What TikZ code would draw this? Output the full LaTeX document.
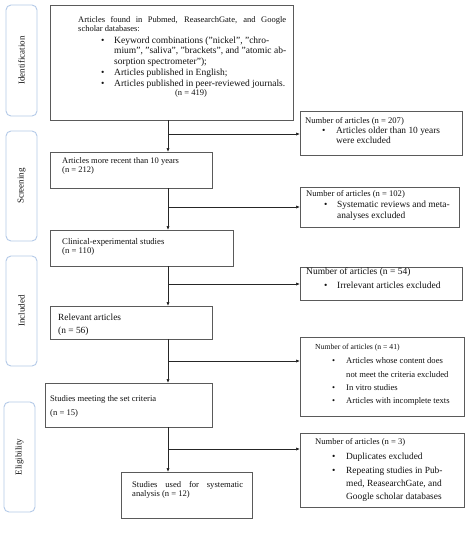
\documentclass[tikz,border=0pt]{standalone}
\usepackage{fontspec}
\setmainfont{Liberation Serif}
\usetikzlibrary{arrows.meta}
\definecolor{sidec}{HTML}{B4CAE8}
\definecolor{boxc}{HTML}{5A5A5A}
\definecolor{txtc}{HTML}{111111}
\newcommand{\mylines}[1]{\begin{tabular}[t]{@{}l@{}}#1\end{tabular}}
\newcommand{\mybul}[2]{\begin{tabular}[t]{@{}p{#1}@{}l@{}}#2\end{tabular}}
\newcommand{\fs}[2]{\fontsize{#1}{#2}\selectfont}
\begin{document}
\begin{tikzpicture}[x=1pt,y=-1pt,
  sidebox/.style={draw=sidec,line width=0.9pt,rounded corners=5pt,fill=white},
  mbox/.style={draw=boxc,line width=0.9pt},
  txt/.style={inner sep=0pt,anchor=base west,text=txtc},
  sidetxt/.style={inner sep=0pt,rotate=90,text=txtc,font=\fs{9}{10}},
  arr/.style={draw=black!85,line width=0.7pt,-{Latex[length=4pt,width=3.2pt]}},
  ln/.style={draw=black!85,line width=0.7pt}]
\useasboundingbox[fill=white] (0,0) rectangle (469,550);
% side labels
\draw[sidebox] (6,5) rectangle (37,116);
\node[sidetxt] (sid) at (21.5,60.5) {Identification};
\draw[sidebox] (6,131) rectangle (37,241);
\node[sidetxt] (sscr) at (21.5,186) {Screening};
\draw[sidebox] (6,256) rectangle (37,366);
\node[sidetxt] (sinc) at (21.5,311) {Included};
\draw[sidebox] (4,402) rectangle (35,512);
\node[sidetxt] (selig) at (19.5,457) {Eligibility};
% main boxes
\draw[mbox] (50,5) rectangle (293,120);
\coordinate (b1s) at (168,120);
\draw[mbox] (50,152) rectangle (212,188);
\coordinate (b2n) at (168,152); \coordinate (b2s) at (168,188);
\draw[mbox] (50,230) rectangle (233,266);
\coordinate (b3n) at (168,230); \coordinate (b3s) at (168,266);
\draw[mbox] (50,306) rectangle (212,339);
\coordinate (b4n) at (168,306); \coordinate (b4s) at (168,339);
\draw[mbox] (45,383) rectangle (212,427);
\coordinate (b5n) at (168,383); \coordinate (b5s) at (168,427);
\draw[mbox] (121,472) rectangle (252,518);
\coordinate (b6n) at (168,472);
% right boxes
\draw[mbox] (300,111) rectangle (462,155);
\coordinate (r1w) at (300,134);
\draw[mbox] (300,187) rectangle (459,227);
\coordinate (r2w) at (300,207);
\draw[mbox] (300,267) rectangle (462,300);
\coordinate (r3w) at (300,284);
\draw[mbox] (300,337) rectangle (464,416);
\coordinate (r4w) at (300,361);
\draw[mbox] (300,433) rectangle (464,507);
\coordinate (r5w) at (300,449);
% connectors
\draw[arr] (b1s) -- (b2n);
\draw[arr] (b2s) -- (b3n);
\draw[arr] (b3s) -- (b4n);
\draw[arr] (b4s) -- (b5n);
\draw[arr] (b5s) -- (b6n);
\coordinate (j1) at (168,134);
\coordinate (j2) at (168,207);
\coordinate (j3) at (168,284);
\coordinate (j4) at (168,361);
\coordinate (j5) at (168,449);
\draw[arr] (j1) -- (r1w);
\draw[arr] (j2) -- (r2w);
\draw[arr] (j3) -- (r3w);
\draw[arr] (j4) -- (r4w);
\draw[arr] (j5) -- (r5w);
% texts main
\node[txt] (t1a) at (78,22.5) {\fs{8.5}{9.3}\begin{tabular}[t]{@{}p{208pt}@{}}Articles found in Pubmed, ReasearchGate, and Google\linebreak scholar databases:\end{tabular}};
\node[txt] (t1b) at (101,43.2) {\fs{9.5}{10.7}\mybul{13pt}{\textbullet & Keyword combinations ("nickel", "chro-\\ & mium", "saliva", "brackets", and "atomic ab-\\ & sorption spectrometer");\\ \textbullet & Articles published in English;\\ \textbullet & Articles published in peer-reviewed journals.}};
\node[txt,anchor=base] (t1c) at (191,95.5) {\fs{8.5}{9.3}(n = 419)};
\node[txt] (t2) at (62,163.5) {\fs{8.5}{9.3}\mylines{Articles more recent than 10 years\\(n = 212)}};
\node[txt] (t3) at (62,244.6) {\fs{8.7}{9}\mylines{Clinical-experimental studies\\(n = 110)}};
\node[txt] (t4) at (58,320.8) {\fs{9.4}{13}\mylines{Relevant articles\\(n = 56)}};
\node[txt] (t5) at (50,401.6) {\fs{8.6}{14}\mylines{Studies meeting the set criteria\\(n = 15)}};
\node[txt] (t6) at (132,487.6) {\fs{8.6}{9}\begin{tabular}[t]{@{}p{111pt}@{}}Studies used for systematic\linebreak analysis (n = 12)\end{tabular}};
% texts right
\node[txt] (r1a) at (305,123.6) {\fs{8.6}{10}Number of articles (n = 207)};
\node[txt] (r1b) at (322,133.8) {\fs{9.4}{10}\mybul{14pt}{\textbullet & Articles older than 10 years\\ & were excluded}};
\node[txt] (r2a) at (306,196.6) {\fs{8.6}{10}Number of articles (n = 102)};
\node[txt] (r2b) at (324,207.8) {\fs{9.4}{10.5}\mybul{13pt}{\textbullet & Systematic reviews and meta-\\ & analyses excluded}};
\node[txt] (r3a) at (306,274.9) {\fs{9.5}{10}Number of articles (n = 54)};
\node[txt] (r3b) at (324,288.9) {\fs{9.5}{10}\mybul{13pt}{\textbullet & Irrelevant articles excluded}};
\node[txt] (r4a) at (315,349.3) {\fs{7.7}{9}Number of articles (n = 41)};
\node[txt] (r4b) at (332,363.6) {\fs{8.6}{13.4}\mybul{14pt}{\textbullet & Articles whose content does\\ & not meet the criteria excluded\\ \textbullet & In vitro studies\\ \textbullet & Articles with incomplete texts}};
\node[txt] (r5a) at (315,444.6) {\fs{8.6}{10}Number of articles (n = 3)};
\node[txt] (r5b) at (332,459.8) {\fs{9.4}{13.2}\mybul{14pt}{\textbullet & Duplicates excluded\\ \textbullet & Repeating studies in Pub-\\ & med, ReasearchGate, and\\ & Google scholar databases}};
\end{tikzpicture}
\end{document}
